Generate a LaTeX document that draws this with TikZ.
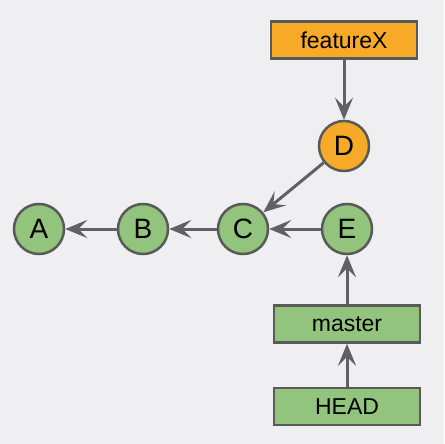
\documentclass[tikz,border=0pt]{standalone}
\usepackage{fontspec}
\setmainfont{Liberation Sans}
\usetikzlibrary{arrows.meta}
\definecolor{fondo}{HTML}{EFEFF1}
\definecolor{verde}{HTML}{93C47D}
\definecolor{naranja}{HTML}{F7A928}
\definecolor{borde}{HTML}{595959}
\definecolor{flecha}{HTML}{606066}
\tikzset{
  commit/.style={circle,draw=borde,line width=2.5pt,minimum size=50pt,inner sep=0pt,
    font=\fontsize{28}{32}\selectfont},
  rama/.style={rectangle,draw=borde,line width=2.5pt,minimum width=146pt,minimum height=37pt,
    inner sep=0pt,font=\fontsize{23}{27}\selectfont},
  enlace/.style={flecha,line width=3pt,-{Stealth[length=22pt,width=18pt,inset=9pt]}}
}
\begin{document}
\begin{tikzpicture}[x=1pt,y=-1pt]
        % fondo
        \fill[fondo] (0,0) rectangle (444,444);
        \useasboundingbox (0,0) rectangle (444,444);

        % commits
        \node[commit,fill=verde] (A) at (39,229) {A};
        \node[commit,fill=verde] (B) at (143,229) {B};
        \node[commit,fill=verde] (C) at (243,229) {C};
        \node[commit,fill=verde] (E) at (347,229) {E};
        \node[commit,fill=naranja] (D) at (344,146) {D};

        % ramas
        \node[rama,fill=naranja] (featureX) at (344,40) {featureX};
        \node[rama,fill=verde] (master) at (347,324) {master};
        \node[rama,fill=verde] (HEAD) at (347,406.5) {HEAD};

        % flechas
        \draw[enlace] (B) -- (A);
        \draw[enlace] (C) -- (B);
        \draw[enlace] (E) -- (C);
        \draw[enlace] (D) -- (C);
        \draw[enlace] (featureX) -- (D);
        \draw[enlace] (master) -- (E);
        \draw[enlace] (HEAD) -- (master);
    \end{tikzpicture}
\end{document}
